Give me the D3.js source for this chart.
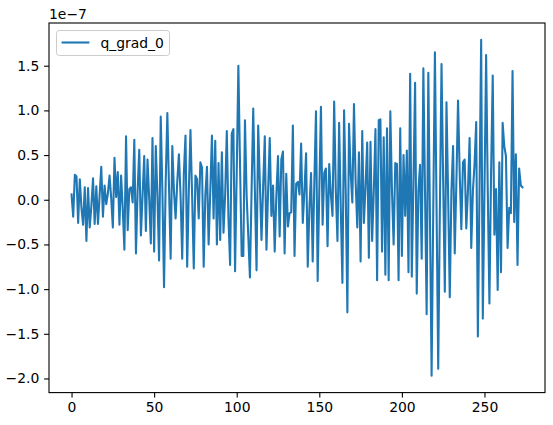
<!DOCTYPE html>
<html>
<head>
<meta charset="utf-8">
<script src="https://cdn.jsdelivr.net/npm/d3@7"></script>
<style>
  body { margin: 0; background: #fff; }
  svg { display: block; font-family: "DejaVu Sans", sans-serif; }
</style>
</head>
<body>
<svg id="chart" width="553" height="425"></svg>
<script>
// values in units of 1e-7, index 0..273
const qGrad0 = [
  0.06, -0.19, 0.28, 0.26, -0.26, 0.23, -0.09, -0.28, 0.14, -0.46,
  0.13, -0.31, -0.07, 0.24, -0.27, 0.15, -0.27, 0.05, 0.37, -0.19,
  0.16, -0.05, 0.07, 0.27, 0.02, -0.31, 0.47, 0.03, 0.31, -0.28,
  0.27, -0.10, -0.56, 0.71, -0.34, 0.12, 0.14, -0.03, 0.67, -0.60,
  0.10, 0.56, -0.40, 0.05, 0.49, -0.35, 0.45, 0.02, -0.49, 0.69,
  -0.58, 0.60, 0.05, -0.68, 0.93, 0.10, -0.98, 0.20, 0.97, 0.15,
  -0.66, 0.60, 0.10, -0.21, 0.20, 0.51, 0.05, -0.66, 0.30, 0.72,
  -0.75, 0.10, 0.78, 0.05, -0.77, 0.27, 0.23, -0.21, 0.42, 0.36,
  -0.75, 0.05, 0.37, -0.50, 0.10, 0.72, -0.21, 0.66, -0.50, 0.41,
  -0.45, 0.53, -0.37, 0.05, 0.77, -0.20, -0.73, 0.74, 0.79, -0.80,
  0.30, 1.50, 0.40, -0.63, -0.63, 0.89, 0.05, -0.40, -0.87, 0.10,
  1.02, 0.10, -0.79, 0.83, 0.20, -0.45, 0.15, 0.71, -0.56, 0.10,
  0.69, -0.18, 0.16, -0.58, 0.05, 0.49, -0.41, 0.45, 0.54, -0.60,
  0.29, -0.30, -0.15, -0.14, 0.83, -0.63, 0.18, 0.20, 0.06, 0.63,
  -0.26, 0.10, 0.52, -0.75, -0.10, 0.30, -0.69, 0.20, 0.99, -0.91,
  0.10, 1.04, -0.28, 0.30, 0.35, -0.52, 0.40, 0.06, -0.18, 1.10,
  0.10, -0.46, 0.86, -0.10, -0.93, 1.00, 0.10, -1.26, 0.85, 0.30,
  -0.03, 1.07, 0.20, -0.31, 0.53, -0.69, 0.77, -0.26, 0.15, 0.64,
  -0.65, 0.65, -0.46, 0.10, 0.79, -0.90, 0.89, 0.90, -0.58, 0.70,
  -0.84, 0.80, -0.90, 0.99, 0.10, -0.50, 0.41, 0.40, -0.90, 0.80,
  -0.63, 0.50, -0.18, 0.55, -0.81, 1.41, -0.86, 0.20, 1.31, -1.05,
  0.10, 0.39, -0.66, 1.47, 0.10, -1.28, 1.42, -0.20, -1.97, -0.10,
  1.65, -0.10, -1.89, -0.10, 1.52, 0.20, -1.03, 1.09, 0.05, -1.09,
  0.10, 0.60, -0.60, 0.20, 1.11, 0.30, -0.33, 0.42, 0.45, -0.32,
  0.10, 0.69, -0.54, 0.10, 0.40, 0.87, -1.53, 0.10, 1.79, -1.33,
  0.10, 1.62, 0.10, -1.16, 0.30, 1.39, -0.39, 0.12, -1.01, 0.42,
  -0.81, 0.86, 0.60, 0.49, -0.54, -0.09, -0.15, 1.44, -0.25, 0.51,
  -0.73, 0.35, 0.16, 0.14
];
const seriesName = "q_grad_0";
const xTicks = [0, 50, 100, 150, 200, 250];
const yTicks = [-2.0, -1.5, -1.0, -0.5, 0.0, 0.5, 1.0, 1.5];
const offsetLabel = "1e\u22127";

drawChart();

function drawChart(){
  let svg = d3.select("#chart"),
      frame = {left: 49, top: 23, width: 496, height: 369.6},
      fontSize = 13.9,
      tickLen = 4.86,
      tickPad = 4.86,
      n = qGrad0.length,
      xPad = (n - 1) * 0.05,
      yMin = d3.min(qGrad0),
      yMax = d3.max(qGrad0),
      yPad = (yMax - yMin) * 0.05,
      xScale = d3.scaleLinear().domain([-xPad, n - 1 + xPad]).range([frame.left, frame.left + frame.width]),
      yScale = d3.scaleLinear().domain([yMin - yPad, yMax + yPad]).range([frame.top + frame.height, frame.top]),
      fmt = v => d3.format(".1f")(v).replace("-", "\u2212");

  // line
  let line = d3.line()
      .x((d, i) => xScale(i))
      .y(d => yScale(d));

  svg.append("defs").append("clipPath").attr("id", "clip")
    .append("rect")
    .attr("x", frame.left).attr("y", frame.top)
    .attr("width", frame.width).attr("height", frame.height);

  svg.append("path")
    .datum(qGrad0)
    .attr("clip-path", "url(#clip)")
    .attr("d", line)
    .attr("fill", "none")
    .attr("stroke", "#1f77b4")
    .attr("stroke-width", 2.08)
    .attr("stroke-linejoin", "round")
    .attr("stroke-linecap", "square");

  // x axis
  let xAxis = d3.axisBottom(xScale)
      .tickValues(xTicks)
      .tickSize(tickLen)
      .tickPadding(tickPad)
      .tickFormat(d3.format("d"));
  let gx = svg.append("g")
      .attr("transform", "translate(0," + (frame.top + frame.height) + ")")
      .call(xAxis);
  gx.select(".domain").remove();
  gx.selectAll("line").attr("stroke", "#000").attr("stroke-width", 1.1);
  gx.selectAll("text").attr("font-size", fontSize).attr("fill", "#000")
    .attr("font-family", "DejaVu Sans");

  // y axis
  let yAxis = d3.axisLeft(yScale)
      .tickValues(yTicks)
      .tickSize(tickLen)
      .tickPadding(tickPad)
      .tickFormat(fmt);
  let gy = svg.append("g")
      .attr("transform", "translate(" + frame.left + ",0)")
      .call(yAxis);
  gy.select(".domain").remove();
  gy.selectAll("line").attr("stroke", "#000").attr("stroke-width", 1.1);
  gy.selectAll("text").attr("font-size", fontSize).attr("fill", "#000")
    .attr("font-family", "DejaVu Sans");

  // frame
  svg.append("rect")
    .attr("x", frame.left).attr("y", frame.top)
    .attr("width", frame.width).attr("height", frame.height)
    .attr("fill", "none")
    .attr("stroke", "#000")
    .attr("stroke-width", 1.1);

  // offset text
  svg.append("text")
    .attr("x", frame.left)
    .attr("y", frame.top - 4.5)
    .attr("font-size", fontSize)
    .text(offsetLabel);

  // legend
  let legend = svg.append("g")
      .attr("transform", "translate(" + (frame.left + 7) + "," + (frame.top + 7) + ")");
  legend.append("rect")
    .attr("x", 0.5).attr("y", 0.5)
    .attr("width", 113).attr("height", 25)
    .attr("rx", 2.8).attr("ry", 2.8)
    .attr("fill", "#fff").attr("fill-opacity", 0.8)
    .attr("stroke", "#cccccc").attr("stroke-width", 1);
  legend.append("line")
    .attr("x1", 5.6).attr("x2", 33.4)
    .attr("y1", 12.5).attr("y2", 12.5)
    .attr("stroke", "#1f77b4").attr("stroke-width", 2.08);
  legend.append("text")
    .attr("x", 44.5).attr("y", 17.5)
    .attr("font-size", fontSize)
    .text(seriesName);
}
</script>
</body>
</html>
